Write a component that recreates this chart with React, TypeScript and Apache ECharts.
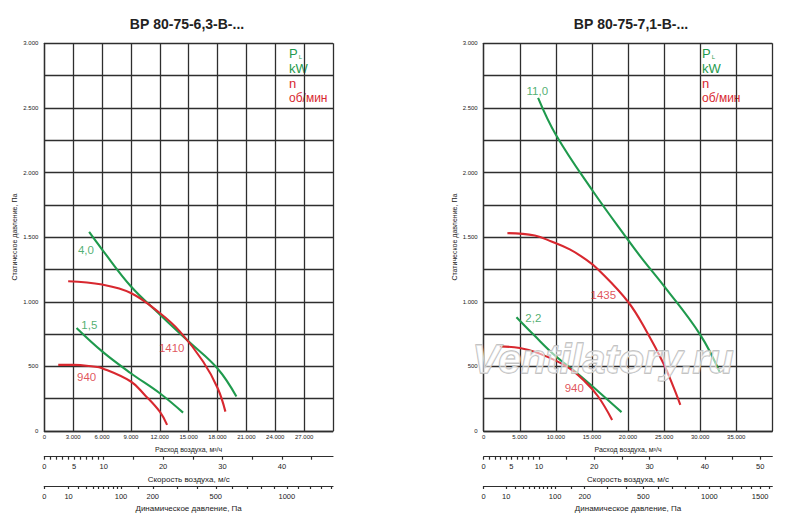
import { useEffect, useRef } from "react";
import * as echarts from "echarts";

const GREEN = "#1f9a4d";
const RED = "#d8282f";
const GRID_COLOR = "#2e2e2e";
const FONT = '"Liberation Sans Narrow", "Liberation Sans", Arial, sans-serif';

// ВР 80-75-6,3: [расход м³/ч, статическое давление Па]
const power40Small = [[4660, 1540], [6010, 1404], [8990, 1120], [12000, 902], [15010, 692], [18020, 482], [19960, 267]];
const power15Small = [[3350, 797], [6010, 616], [8990, 447], [12000, 292], [14420, 142]];
const speed1410Small = [[2480, 1159], [6010, 1133], [8990, 1068], [12000, 913], [14080, 771], [16500, 538], [18020, 331], [18820, 150]];
const speed940Small = [[1450, 512], [3000, 512], [5080, 499], [6010, 486], [8990, 383], [10440, 279], [12000, 150], [12760, 47]];

// ВР 80-75-7,1
const power110Big = [[7540, 2578], [10000, 2293], [15000, 1867], [20000, 1479], [22080, 1324], [25000, 1121], [30000, 746], [32730, 454]];
const power22Big = [[4540, 880], [7000, 740], [10000, 578], [13000, 445], [16000, 300], [19100, 146]];
const speed1435Big = [[3290, 1531], [7080, 1513], [9390, 1466], [11930, 1405], [14240, 1324], [15860, 1250], [20000, 1000], [22600, 768], [24900, 524], [26280, 343], [27250, 203]];
const speed940Big = [[2230, 655], [5000, 642], [7540, 603], [11470, 500], [14010, 384], [15860, 267], [17800, 86]];

// curve captions: [flow, pressure, text, kind]
const captionsSmall = [[4330, 1401, "4,0", "p"], [4680, 820, "1,5", "p"], [13240, 640, "1410", "n"], [4400, 420, "940", "n"]];
const captionsBig = [[7430, 2633, "11,0", "p"], [16580, 1052, "1435", "n"], [6880, 872, "2,2", "p"], [12560, 330, "940", "n"]];

// axes
const flowMaxSmall = 30000;
const flowStepSmall = 3000;
const flowMaxBig = 40000;
const flowStepBig = 5000;
const pressureMax = 3000;
const pressureStep = 250;
const velocityMaxSmall = 48.6;
const velocityMaxBig = 52.2;
const velocityTicksSmall = [0, 1, 2, 3, 4, 5, 6, 7, 8, 9, 10, 15, 20, 25, 30, 35, 40, 45];
const velocityTicksBig = [0, 1, 2, 3, 4, 5, 6, 7, 8, 9, 10, 15, 20, 25, 30, 35, 40, 45, 50];
const velocityLabelsSmall = [0, 5, 10, 20, 30, 40];
const velocityLabelsBig = [0, 5, 10, 20, 30, 40, 50];
const dynTicksSmall = [0, 10, 20, 30, 40, 50, 60, 70, 80, 90, 100, 150, 200, 300, 400, 500, 600, 700, 800, 900, 1000, 1100, 1200, 1300, 1400];
const dynTicksBig = [...dynTicksSmall, 1500, 1600];
const dynLabelsSmall = [0, 10, 100, 200, 500, 1000];
const dynLabelsBig = [0, 10, 100, 200, 500, 1000, 1500];

const AIR_DENSITY = 1.2;
const paToSpeed = (p: number) => Math.sqrt((2 * p) / AIR_DENSITY);
const speedToPa = (v: number) => Math.round((AIR_DENSITY * v * v) / 2);

const fmt = (v: number) => {
  if (v === 0) return "0";
  if (v < 1000) return String(v);
  return `${Math.floor(v / 1000)}.${String(v % 1000).padStart(3, "0")}`;
};

const mainXAxis = (gridIndex: number, max: number, step: number) => ({
  gridIndex,
  type: "value",
  min: 0,
  max,
  interval: step,
  axisLine: { show: true, lineStyle: { color: GRID_COLOR, width: 1.3 } },
  axisTick: { show: false },
  axisLabel: {
    fontSize: 6,
    fontFamily: FONT,
    color: "#222",
    margin: 3,
    formatter: (v: number) => (v === max ? "" : fmt(v)),
  },
  splitLine: { show: true, lineStyle: { color: GRID_COLOR, width: 1.3 } },
  name: "Расход воздуха, м³/ч",
  nameLocation: "middle",
  nameGap: 15,
  nameTextStyle: { fontSize: 7, fontFamily: FONT, color: "#222" },
});

const extraXAxis = (
  gridIndex: number,
  max: number,
  offset: number,
  ticks: number[],
  labels: number[],
  name: string,
  fmtLabel: (v: number) => string
) => ({
  gridIndex,
  type: "value",
  min: 0,
  max,
  position: "bottom",
  offset,
  axisLine: { show: true, onZero: false, lineStyle: { color: GRID_COLOR, width: 1.2 } },
  axisTick: { show: true, length: 3, customValues: ticks, lineStyle: { color: GRID_COLOR, width: 1.2 } },
  axisLabel: {
    customValues: labels,
    fontSize: 7.5,
    fontFamily: FONT,
    color: "#222",
    margin: 6,
    formatter: fmtLabel,
  },
  splitLine: { show: false },
  name,
  nameLocation: "middle",
  nameGap: 18,
  nameTextStyle: { fontSize: 8, fontFamily: FONT, color: "#222" },
});

const pressureAxis = (gridIndex: number) => ({
  gridIndex,
  type: "value",
  min: 0,
  max: pressureMax,
  interval: pressureStep,
  axisLine: { show: true, lineStyle: { color: GRID_COLOR, width: 1.3 } },
  axisTick: { show: false },
  axisLabel: {
    fontSize: 6,
    fontFamily: FONT,
    color: "#222",
    margin: 6,
    formatter: (v: number) => (v % 500 === 0 ? fmt(v) : ""),
  },
  splitLine: { show: true, lineStyle: { color: GRID_COLOR, width: 1.3 } },
  name: "Статическое давление, Па",
  nameLocation: "middle",
  nameGap: 26,
  nameTextStyle: { fontSize: 7, fontFamily: FONT, color: "#222" },
});

const curve = (data: number[][], color: string, xAxisIndex: number, yAxisIndex: number) => ({
  type: "line",
  xAxisIndex,
  yAxisIndex,
  data,
  smooth: 0.4,
  showSymbol: false,
  lineStyle: { color, width: 2.1 },
  z: 5,
});

const captions = (items: (number | string)[][], xAxisIndex: number, yAxisIndex: number) => ({
  type: "scatter",
  xAxisIndex,
  yAxisIndex,
  symbolSize: 0,
  silent: true,
  z: 6,
  data: items.map(([q, p, text, kind]) => ({
    value: [q, p],
    label: {
      show: true,
      position: "inside",
      formatter: String(text),
      color: kind === "p" ? GREEN : RED,
      fontSize: 11.5,
      fontFamily: FONT,
    },
  })),
});

const legendTexts = (x: number) => [
  {
    type: "text",
    x,
    y: 53,
    style: {
      text: "{p|P}{s|L}",
      rich: {
        p: { fontSize: 13, fontFamily: FONT, fill: GREEN },
        s: { fontSize: 6, fontFamily: FONT, fill: GREEN, padding: [7, 0, 0, 1] },
      },
      verticalAlign: "middle",
    },
  },
  { type: "text", x, y: 68.5, style: { text: "kW", fontSize: 13, fontFamily: FONT, fill: GREEN, verticalAlign: "middle" } },
  { type: "text", x, y: 83, style: { text: "n", fontSize: 13, fontFamily: FONT, fill: RED, verticalAlign: "middle" } },
  { type: "text", x, y: 97.5, style: { text: "об/мин", fontSize: 12, fontFamily: FONT, fill: RED, verticalAlign: "middle" } },
];

export default function App() {
  const chartRef = useRef<HTMLDivElement>(null);

  useEffect(() => {
    document.body.style.margin = "0";
    if (!chartRef.current) return;
    const chart = echarts.init(chartRef.current, null, { renderer: "svg" });

    chart.setOption({
      animation: false,
      backgroundColor: "#fff",
      grid: [
        { left: 44.3, top: 43.3, width: 288.7, height: 387.7 },
        { left: 483.7, top: 43.3, width: 288.6, height: 387.7 },
      ],
      xAxis: [
        mainXAxis(0, flowMaxSmall, flowStepSmall),
        extraXAxis(0, velocityMaxSmall, 25.7, velocityTicksSmall, velocityLabelsSmall, "Скорость воздуха, м/с", (v) => String(Math.round(v))),
        extraXAxis(0, velocityMaxSmall, 55, dynTicksSmall.map(paToSpeed), dynLabelsSmall.map(paToSpeed), "Динамическое давление, Па", (v) => String(speedToPa(v))),
        mainXAxis(1, flowMaxBig, flowStepBig),
        extraXAxis(1, velocityMaxBig, 25.7, velocityTicksBig, velocityLabelsBig, "Скорость воздуха, м/с", (v) => String(Math.round(v))),
        extraXAxis(1, velocityMaxBig, 55, dynTicksBig.map(paToSpeed), dynLabelsBig.map(paToSpeed), "Динамическое давление, Па", (v) => String(speedToPa(v))),
      ],
      yAxis: [pressureAxis(0), pressureAxis(1)],
      series: [
        curve(power40Small, GREEN, 0, 0),
        curve(power15Small, GREEN, 0, 0),
        curve(speed1410Small, RED, 0, 0),
        curve(speed940Small, RED, 0, 0),
        captions(captionsSmall, 0, 0),
        curve(power110Big, GREEN, 3, 1),
        curve(power22Big, GREEN, 3, 1),
        curve(speed1435Big, RED, 3, 1),
        curve(speed940Big, RED, 3, 1),
        captions(captionsBig, 3, 1),
      ],
      graphic: [
        {
          type: "text",
          x: 187,
          y: 24,
          style: { text: "ВР 80-75-6,3-В-...", fontSize: 14, fontWeight: "bold", fontFamily: "Liberation Sans, Arial", fill: "#222", align: "center", verticalAlign: "middle" },
        },
        {
          type: "text",
          x: 631,
          y: 24,
          style: { text: "ВР 80-75-7,1-В-...", fontSize: 14, fontWeight: "bold", fontFamily: "Liberation Sans, Arial", fill: "#222", align: "center", verticalAlign: "middle" },
        },
        ...legendTexts(289),
        ...legendTexts(702),
        {
          type: "text",
          x: 603,
          y: 359,
          z: 100,
          silent: true,
          style: {
            text: "Ventilatory.ru",
            fontSize: 41,
            fontStyle: "italic",
            fontWeight: "bold",
            fontFamily: "Liberation Sans, Arial",
            fill: "rgba(255,255,255,0.55)",
            stroke: "#b8b8b8",
            lineWidth: 1.3,
            align: "center",
            verticalAlign: "middle",
          },
        },
      ],
    });

    return () => {
      chart.dispose();
    };
  }, []);

  return <div ref={chartRef} style={{ width: 800, height: 525 }} />;
}
